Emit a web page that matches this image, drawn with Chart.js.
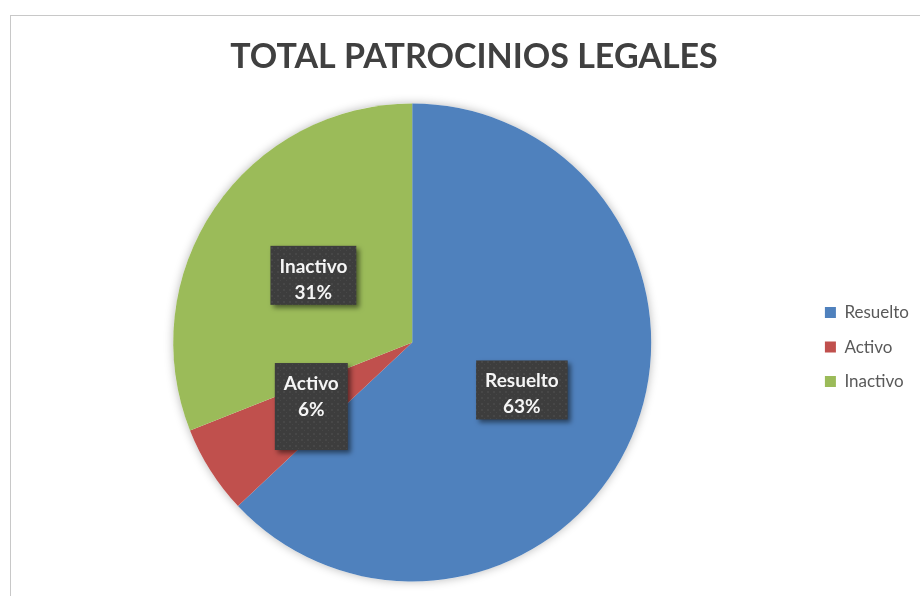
<!DOCTYPE html>
<html>
<head>
<meta charset="utf-8">
<script src="https://cdn.jsdelivr.net/npm/chart.js@4.4.1/dist/chart.umd.min.js"></script>
<style>
  html, body { margin: 0; padding: 0; background: #fff; overflow: hidden; }
  #marco { position: absolute; left: 10px; top: 15px; width: 940px; height: 620px; border: 1.5px solid #c8c8c8; }
  #wrap { position: absolute; left: 0; top: 0; width: 920px; height: 596px; }
</style>
</head>
<body>
<div id="marco"></div>
<div id="wrap"><canvas id="myChart" width="920" height="596"></canvas></div>
<script>
// datos de la grafica
const titulo = 'TOTAL PATROCINIOS LEGALES';
const categorias = ['Resuelto', 'Activo', 'Inactivo'];
const porcentajes = [63, 6, 31];
const colores = ['#4F81BD', '#C0504D', '#9BBB59'];

const fuente = "Lato, 'Open Sans', sans-serif";

// patron punteado para las cajas de etiqueta
function patronCaja(ctx) {
  const c = document.createElement('canvas');
  c.width = 6; c.height = 6;
  const p = c.getContext('2d');
  p.fillStyle = '#3d3d3d';
  p.fillRect(0, 0, 6, 6);
  p.fillStyle = '#474747';
  p.fillRect(1, 1, 2, 2);
  p.fillRect(4, 4, 1, 1);
  return ctx.createPattern(c, 'repeat');
}

// titulo centrado en el marco (no en el canvas)
const tituloPlugin = {
  id: 'tituloPlugin',
  afterDraw(chart) {
    const ctx = chart.ctx;
    ctx.save();
    ctx.font = 'bold 34px ' + fuente;
    ctx.fillStyle = '#404040';
    ctx.textAlign = 'center';
    ctx.textBaseline = 'middle';
    ctx.fillText(titulo, 474, 57);
    ctx.restore();
  }
};

// sombra suave detras del pastel
const sombra = {
  id: 'sombra',
  beforeDatasetsDraw(chart) {
    const arc = chart.getDatasetMeta(0).data[0];
    const ctx = chart.ctx;
    ctx.save();
    ctx.shadowColor = 'rgba(0,0,0,0.28)';
    ctx.shadowBlur = 10;
    ctx.fillStyle = '#ffffff';
    ctx.beginPath();
    ctx.arc(arc.x, arc.y, arc.outerRadius, 0, Math.PI * 2);
    ctx.fill();
    ctx.restore();
  }
};

// etiquetas con caja oscura sobre cada rebanada
const etiquetas = {
  id: 'etiquetas',
  afterDatasetsDraw(chart) {
    const ctx = chart.ctx;
    const meta = chart.getDatasetMeta(0);
    const patron = patronCaja(ctx);
    meta.data.forEach((arc, i) => {
      const pos = arc.tooltipPosition();
      const linea1 = categorias[i];
      const linea2 = porcentajes[i] + '%';
      ctx.save();
      ctx.font = 'bold 19px ' + fuente;
      const w = Math.max(ctx.measureText(linea1).width, ctx.measureText(linea2).width) + 18;
      const h = i === 1 ? 87 : 59;
      const x = pos.x - w / 2;
      const y = pos.y - h / 2;
      ctx.shadowColor = 'rgba(0,0,0,0.5)';
      ctx.shadowBlur = 5;
      ctx.shadowOffsetX = 3;
      ctx.shadowOffsetY = 3;
      ctx.fillStyle = patron;
      ctx.fillRect(x, y, w, h);
      ctx.restore();
      ctx.save();
      ctx.font = 'bold 19px ' + fuente;
      ctx.fillStyle = '#f5f5f5';
      ctx.textAlign = 'center';
      ctx.textBaseline = 'alphabetic';
      ctx.fillText(linea1, pos.x, y + 27);
      ctx.fillText(linea2, pos.x, y + 53);
      ctx.restore();
    });
  }
};

const ctx = document.getElementById('myChart');

new Chart(ctx, {
  type: 'pie',
  data: {
    labels: categorias,
    datasets: [{
      data: porcentajes,
      backgroundColor: colores,
      borderWidth: 0,
      radius: 239
    }]
  },
  options: {
    responsive: false,
    animation: false,
    layout: { padding: { left: 17, right: 1, top: 100, bottom: 11 } },
    plugins: {
      title: { display: false },
      legend: {
        position: 'right',
        fullSize: false,
        title: { display: true, text: ' ', font: { size: 1 }, padding: 4 },
        labels: {
          boxWidth: 11,
          boxHeight: 11,
          padding: 17.5,
          color: '#595959',
          font: { family: fuente, size: 17 }
        }
      },
      tooltip: { enabled: false }
    }
  },
  plugins: [sombra, etiquetas, tituloPlugin]
});
</script>
</body>
</html>
